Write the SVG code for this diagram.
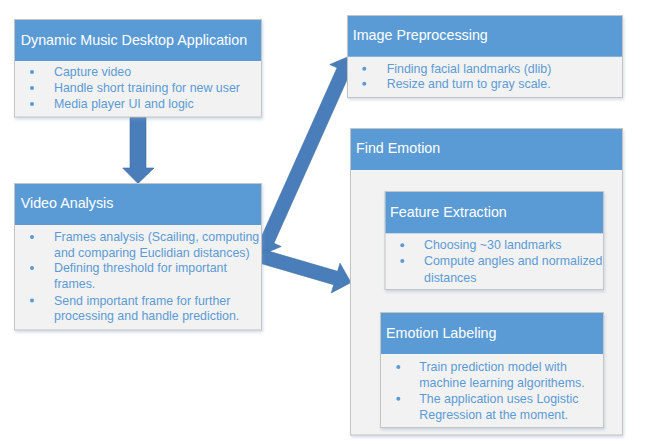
<svg xmlns="http://www.w3.org/2000/svg" width="647" height="448" viewBox="0 0 647 448">
<defs>
<filter id="sh" x="-10%" y="-10%" width="125%" height="130%">
<feDropShadow dx="1" dy="2" stdDeviation="1.5" flood-color="#7f9fc4" flood-opacity="0.35"/>
</filter>
<style>
.body{fill:#F2F2F2;stroke:#C4C4C4;stroke-width:1}
.head{fill:#5B9BD5}
.title{font-family:"Liberation Sans",Arial,sans-serif;font-size:14.3px;fill:#FFFFFF}
.txt{font-family:"Liberation Sans",Arial,sans-serif;font-size:12.4px;fill:#5B9BD5}
.dot{fill:#5B9BD5}
.arrow{fill:#4A7EBB;stroke:#41719C;stroke-width:0.6;stroke-linejoin:miter}
</style>
</defs>
<rect width="647" height="448" fill="#FFFFFF"/>

<g id="connectors">
<polygon class="arrow" points="130,117 146,117 146,168 154,168 138,183.5 122.7,168 130,168"/>
<polygon class="arrow" points="350,56 357.17,76.73 349.86,73.47 273.92,243.25 281.23,246.51 261,255 253.83,234.27 261.14,237.53 337.08,67.75 329.77,64.49"/>
<polygon class="arrow" points="263.96,249.78 337.6,271.29 339.99,263.13 351,282.5 331.29,292.89 333.68,284.73 260.04,263.22"/>
</g>

<g id="app">
<g filter="url(#sh)">
<rect class="body" x="14.5" y="19.5" width="247" height="97.5"/>
</g>
<rect class="head" x="15" y="20" width="246" height="41"/>
<text class="title" x="20.7" y="45">Dynamic Music Desktop Application</text>
<circle class="dot" cx="32" cy="72" r="2"/>
<circle class="dot" cx="32" cy="88" r="2"/>
<circle class="dot" cx="32" cy="104" r="2"/>
<text class="txt" x="54" y="76">Capture video</text>
<text class="txt" x="54" y="92">Handle short training for new user</text>
<text class="txt" x="54" y="108">Media player UI and logic</text>
</g>

<g id="video">
<g filter="url(#sh)">
<rect class="body" x="14.5" y="183.5" width="247" height="146.5"/>
</g>
<rect class="head" x="15" y="184" width="246" height="41"/>
<text class="title" x="20.7" y="208">Video Analysis</text>
<circle class="dot" cx="32" cy="237" r="2"/>
<circle class="dot" cx="32" cy="268" r="2"/>
<circle class="dot" cx="32" cy="300.5" r="2"/>
<text class="txt" x="54" y="241">Frames analysis (Scailing, computing</text>
<text class="txt" x="54" y="256.5">and comparing Euclidian distances)</text>
<text class="txt" x="54" y="272">Defining threshold for important</text>
<text class="txt" x="54" y="288">frames.</text>
<text class="txt" x="54" y="304.5">Send important frame for further</text>
<text class="txt" x="54" y="320">processing and handle prediction.</text>
</g>

<g id="preprocessing">
<g filter="url(#sh)">
<rect class="body" x="347.5" y="15.5" width="275" height="82"/>
</g>
<rect class="head" x="348" y="16" width="274" height="40.7"/>
<text class="title" x="352.7" y="40">Image Preprocessing</text>
<circle class="dot" cx="364.3" cy="68.7" r="2"/>
<circle class="dot" cx="364.3" cy="83.7" r="2"/>
<text class="txt" x="386.7" y="72.7">Finding facial landmarks (dlib)</text>
<text class="txt" x="386.7" y="87.7">Resize and turn to gray scale.</text>
</g>

<g id="find-emotion">
<g filter="url(#sh)">
<rect class="body" x="350.5" y="128.5" width="272" height="306.5"/>
</g>
<rect class="head" x="351" y="129" width="271" height="41"/>
<text class="title" x="356" y="153.3">Find Emotion</text>
</g>

<g id="feature-extraction">
<g filter="url(#sh)">
<rect class="body" x="385" y="191.5" width="218.5" height="98"/>
</g>
<rect class="head" x="385.5" y="192" width="217.5" height="41.3"/>
<text class="title" x="390" y="216.7">Feature Extraction</text>
<circle class="dot" cx="402.3" cy="245.3" r="2"/>
<circle class="dot" cx="402.3" cy="261" r="2"/>
<text class="txt" x="424" y="249.3">Choosing ~30 landmarks</text>
<text class="txt" x="424" y="265">Compute angles and normalized</text>
<text class="txt" x="424" y="281.7">distances</text>
</g>

<g id="emotion-labeling">
<g filter="url(#sh)">
<rect class="body" x="380.5" y="312.5" width="223" height="115"/>
</g>
<rect class="head" x="381" y="313" width="222" height="41"/>
<text class="title" x="386" y="338.3">Emotion Labeling</text>
<circle class="dot" cx="398.3" cy="367" r="2"/>
<circle class="dot" cx="398.3" cy="398.7" r="2"/>
<text class="txt" x="419.3" y="371">Train prediction model with</text>
<text class="txt" x="419.3" y="386.7">machine learning algorithems.</text>
<text class="txt" x="419.3" y="402.7">The application uses Logistic</text>
<text class="txt" x="419.3" y="419">Regression at the moment.</text>
</g>
</svg>
